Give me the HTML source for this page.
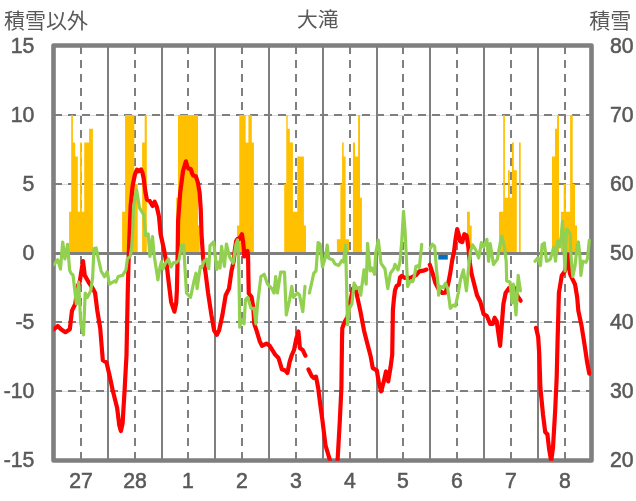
<!DOCTYPE html><html><head><meta charset="utf-8"><title>chart</title><style>html,body{margin:0;padding:0;background:#fff}body{width:636px;height:501px;overflow:hidden;font-family:"Liberation Sans",sans-serif}</style></head><body><svg width="636" height="501" viewBox="0 0 636 501" style="display:block">
<title>大滝</title><desc>積雪以外 / 積雪</desc>
<rect width="636" height="501" fill="#fff"/>
<defs><clipPath id="pc"><rect x="53.5" y="45.5" width="538" height="415.2"/></clipPath></defs>
<line x1="53.5" x2="591.5" y1="115.50" y2="115.50" stroke="#dcdcdc" stroke-width="1"/>
<line x1="53.5" x2="591.5" y1="184.50" y2="184.50" stroke="#dcdcdc" stroke-width="1"/>
<line x1="53.5" x2="591.5" y1="322.50" y2="322.50" stroke="#dcdcdc" stroke-width="1"/>
<line x1="53.5" x2="591.5" y1="391.50" y2="391.50" stroke="#dcdcdc" stroke-width="1"/>
<line x1="54" x2="591.5" y1="115.00" y2="115.00" stroke="#7f7f7f" stroke-width="2" stroke-dasharray="8 6"/>
<line x1="54" x2="591.5" y1="184.00" y2="184.00" stroke="#7f7f7f" stroke-width="2" stroke-dasharray="8 6"/>
<line x1="54" x2="591.5" y1="322.00" y2="322.00" stroke="#7f7f7f" stroke-width="2" stroke-dasharray="8 6"/>
<line x1="54" x2="591.5" y1="391.00" y2="391.00" stroke="#7f7f7f" stroke-width="2" stroke-dasharray="8 6"/>
<line x1="108.00" x2="108.00" y1="45.5" y2="460.5" stroke="#7f7f7f" stroke-width="2"/>
<line x1="162.00" x2="162.00" y1="45.5" y2="460.5" stroke="#7f7f7f" stroke-width="2"/>
<line x1="215.00" x2="215.00" y1="45.5" y2="460.5" stroke="#7f7f7f" stroke-width="2"/>
<line x1="269.00" x2="269.00" y1="45.5" y2="460.5" stroke="#7f7f7f" stroke-width="2"/>
<line x1="323.00" x2="323.00" y1="45.5" y2="460.5" stroke="#7f7f7f" stroke-width="2"/>
<line x1="377.00" x2="377.00" y1="45.5" y2="460.5" stroke="#7f7f7f" stroke-width="2"/>
<line x1="430.00" x2="430.00" y1="45.5" y2="460.5" stroke="#7f7f7f" stroke-width="2"/>
<line x1="484.00" x2="484.00" y1="45.5" y2="460.5" stroke="#7f7f7f" stroke-width="2"/>
<line x1="538.00" x2="538.00" y1="45.5" y2="460.5" stroke="#7f7f7f" stroke-width="2"/>
<line x1="81.00" x2="81.00" y1="46" y2="460.5" stroke="#7f7f7f" stroke-width="2" stroke-dasharray="8 6"/>
<line x1="135.00" x2="135.00" y1="46" y2="460.5" stroke="#7f7f7f" stroke-width="2" stroke-dasharray="8 6"/>
<line x1="188.00" x2="188.00" y1="46" y2="460.5" stroke="#7f7f7f" stroke-width="2" stroke-dasharray="8 6"/>
<line x1="242.00" x2="242.00" y1="46" y2="460.5" stroke="#7f7f7f" stroke-width="2" stroke-dasharray="8 6"/>
<line x1="296.00" x2="296.00" y1="46" y2="460.5" stroke="#7f7f7f" stroke-width="2" stroke-dasharray="8 6"/>
<line x1="350.00" x2="350.00" y1="46" y2="460.5" stroke="#7f7f7f" stroke-width="2" stroke-dasharray="8 6"/>
<line x1="403.00" x2="403.00" y1="46" y2="460.5" stroke="#7f7f7f" stroke-width="2" stroke-dasharray="8 6"/>
<line x1="457.00" x2="457.00" y1="46" y2="460.5" stroke="#7f7f7f" stroke-width="2" stroke-dasharray="8 6"/>
<line x1="511.00" x2="511.00" y1="46" y2="460.5" stroke="#7f7f7f" stroke-width="2" stroke-dasharray="8 6"/>
<line x1="565.00" x2="565.00" y1="46" y2="460.5" stroke="#7f7f7f" stroke-width="2" stroke-dasharray="8 6"/>
<path d="M69.1,253.6L69.1,211.7L71.2,211.7L71.2,114.9L72.9,114.9L72.9,142.6L75.2,142.6L75.2,156.4L77.8,156.4L77.8,211.7L80.0,211.7L80.0,142.6L81.8,142.6L81.8,211.7L84.2,211.7L84.2,142.6L89.1,142.6L89.1,128.8L92.9,128.8L92.9,253.6Z" fill="#FFC000"/>
<path d="M122.1,253.6L122.1,211.7L125.1,211.7L125.1,114.9L134.3,114.9L134.3,184.0L137.7,184.0L137.7,253.6Z" fill="#FFC000"/>
<path d="M142.1,253.6L142.1,142.6L144.7,142.6L144.7,114.9L146.8,114.9L146.8,253.6Z" fill="#FFC000"/>
<path d="M176.2,253.6L176.2,197.8L178.0,197.8L178.0,114.9L198.0,114.9L198.0,225.5L199.7,225.5L199.7,253.6Z" fill="#FFC000"/>
<path d="M237.1,253.6L237.1,225.5L239.3,225.5L239.3,114.9L245.7,114.9L245.7,142.6L248.4,142.6L248.4,114.9L251.8,114.9L251.8,142.6L253.9,142.6L253.9,253.6Z" fill="#FFC000"/>
<path d="M284.2,253.6L284.2,184.0L286.3,184.0L286.3,114.9L287.7,114.9L287.7,128.8L289.8,128.8L289.8,142.6L292.9,142.6L292.9,211.7L297.3,211.7L297.3,156.4L303.9,156.4L303.9,225.5L306.0,225.5L306.0,253.6Z" fill="#FFC000"/>
<path d="M336.9,253.6L336.9,239.3L340.4,239.3L340.4,184.0L342.1,184.0L342.1,142.6L343.7,142.6L343.7,156.4L345.6,156.4L345.6,239.3L349.0,239.3L349.0,253.6Z" fill="#FFC000"/>
<path d="M352.9,253.6L352.9,142.6L355.0,142.6L355.0,156.4L358.1,156.4L358.1,114.9L360.0,114.9L360.0,197.8L361.9,197.8L361.9,253.6Z" fill="#FFC000"/>
<path d="M467.0,253.6L467.0,211.7L469.9,211.7L469.9,225.5L471.7,225.5L471.7,253.6Z" fill="#FFC000"/>
<path d="M499.0,253.6L499.0,211.7L503.2,211.7L503.2,114.9L504.9,114.9L504.9,197.8L508.0,197.8L508.0,170.2L509.8,170.2L509.8,197.8L511.9,197.8L511.9,142.6L513.8,142.6L513.8,170.2L516.8,170.2L516.8,253.6Z" fill="#FFC000"/>
<path d="M519.0,253.6L519.0,142.6L520.7,142.6L520.7,253.6Z" fill="#FFC000"/>
<path d="M552.0,253.6L552.0,156.4L555.0,156.4L555.0,128.8L557.1,128.8L557.1,114.9L559.0,114.9L559.0,253.6Z" fill="#FFC000"/>
<path d="M560.9,253.6L560.9,211.7L563.7,211.7L563.7,184.0L565.9,184.0L565.9,211.7L570.1,211.7L570.1,114.9L572.7,114.9L572.7,184.0L575.0,184.0L575.0,225.5L577.0,225.5L577.0,253.6Z" fill="#FFC000"/>
<line x1="53.5" x2="591.5" y1="253.5" y2="253.5" stroke="#7f7f7f" stroke-width="2.8"/>
<rect x="438.3" y="255.0" width="9.5" height="4.6" fill="#0070C0"/>
<rect x="53.5" y="45.5" width="538.0" height="415.0" fill="none" stroke="#7f7f7f" stroke-width="4.6" stroke-linejoin="round"/>
<g clip-path="url(#pc)" fill="none" stroke-linejoin="round" stroke-linecap="round">
<polyline points="54.0,329.3 57.7,326.0 61.0,329.3 65.4,332.2 69.8,329.3 72.0,310.6 75.3,304.0 77.5,286.4 79.7,282.0 83.0,261.0 84.8,275.4 88.5,282.0 92.9,288.6 95.1,293.0 97.3,310.6 100.2,328.2 102.8,360.2 106.5,362.5 109.4,374.8 112.7,390.2 117.1,407.8 119.3,425.4 120.9,431.0 122.6,423.2 124.6,390.2 126.5,355.0 127.8,290.0 128.8,253.0 130.6,206.0 132.6,186.0 134.9,174.5 137.0,169.6 138.8,171.2 141.0,169.4 142.4,172.5 143.6,178.0 145.5,192.5 146.9,199.6 149.7,201.0 152.6,206.0 154.7,201.7 156.8,206.7 159.0,216.6 160.6,234.0 164.0,249.5 166.7,265.0 168.9,284.0 171.1,301.8 174.4,311.7 176.2,303.0 176.9,290.0 177.5,262.0 178.1,221.0 180.2,192.5 183.0,171.2 185.9,161.3 187.3,166.5 188.4,168.5 190.8,169.1 192.2,173.5 193.2,175.5 195.8,176.2 197.9,182.6 199.6,192.5 200.8,210.0 201.5,234.0 203.1,258.0 205.6,273.2 208.1,293.0 211.4,315.0 214.1,330.4 216.9,334.8 219.1,330.4 222.4,315.0 225.7,295.2 229.0,288.6 231.5,271.0 233.5,262.0 234.8,250.0 236.2,240.8 237.5,238.8 239.0,239.2 240.3,237.0 241.9,234.2 243.0,241.0 243.8,249.0 244.3,256.5 245.8,252.1 247.4,251.0 248.1,257.0 248.4,277.0 248.8,293.5 251.5,296.8 253.2,306.7 254.3,323.8 256.5,330.4 259.8,341.4 262.0,345.8 266.4,343.6 269.7,345.8 275.2,354.6 278.5,358.0 281.9,369.3 285.2,370.4 287.4,373.0 289.6,362.0 291.8,355.0 294.0,350.2 296.2,339.2 298.4,331.5 299.9,348.0 302.8,350.2 305.4,355.7" stroke="#FF0000" stroke-width="4.2"/>
<polyline points="308.5,369.5 311.6,375.9 313.8,378.1 316.0,376.6 318.2,388.0 320.4,405.6 322.4,420.0 325.5,445.3 329.9,460.0 332.0,475.0 335.6,475.0 337.6,460.0 339.8,421.0 341.4,388.0 342.0,340.0 342.3,328.2 344.2,322.7 347.5,317.2 349.7,304.0 353.0,288.6 355.2,286.4 357.4,297.4 360.7,312.8 364.0,330.4 367.3,343.6 370.6,356.0 372.8,368.2 376.8,370.4 379.0,383.6 381.2,391.3 383.8,381.4 386.0,371.5 388.2,381.4 390.4,368.2 392.2,355.0 392.6,330.0 392.9,310.0 393.9,299.0 395.0,290.2 396.7,285.8 398.9,284.7 400.0,277.5 401.6,276.0 404.9,277.8 410.5,277.9 416.0,275.1 419.3,271.3 423.2,270.7 426.5,269.6" stroke="#FF0000" stroke-width="4.2"/>
<polyline points="429.8,264.7 432.5,272.9 435.3,282.8 438.9,289.7 442.2,293.0 445.5,292.6 447.9,285.0 450.1,274.0 452.3,259.7 454.0,252.0 455.6,238.8 457.2,229.0 458.6,234.0 460.0,241.0 462.2,242.1 464.3,234.2 466.6,235.5 468.3,246.5 469.9,263.0 471.6,274.0 474.8,286.4 477.0,295.2 480.3,301.8 483.6,313.9 486.9,316.1 490.2,323.8 492.9,323.8 494.6,317.7 496.8,321.6 500.1,345.8 501.7,326.0 503.4,304.0 505.6,293.0 508.9,288.2 511.1,290.8 513.3,286.4 515.5,291.9 517.7,296.3 520.6,300.7" stroke="#FF0000" stroke-width="4.2"/>
<polyline points="536.0,327.8 538.2,337.0 539.3,355.0 540.4,388.0 543.0,414.4 545.2,432.0 547.4,434.2 549.2,449.7 551.2,461.0 553.0,447.5 555.2,410.0 556.7,377.0 557.6,340.0 558.9,293.0 561.8,275.4 565.0,271.0 568.0,254.7 569.9,273.2 570.6,275.4 575.0,284.2 577.2,297.4 578.3,310.6 581.6,326.0 584.9,347.0 587.1,362.0 589.3,373.7" stroke="#FF0000" stroke-width="4.2"/>
</g>
<g clip-path="url(#pc)" fill="none" stroke-linejoin="round" stroke-linecap="round">
<polyline points="54.0,264.6 57.7,259.7 60.5,269.0 62.7,242.0 64.9,259.0 67.6,244.3 69.6,270.0 70.9,273.2 73.0,275.0 76.4,304.0 78.6,282.0 80.8,323.8 83.5,334.8 85.2,293.0 87.4,297.4 90.7,290.8 92.6,278.0 94.0,248.5 96.2,248.0 98.4,259.0 101.2,271.2 104.5,276.7 107.2,271.8 109.4,284.2 114.9,280.9 116.0,282.0 118.2,276.5 122.6,275.4 125.9,270.0 127.4,258.8 130.2,256.4 131.7,247.0 132.6,232.0 133.6,206.0 136.6,189.8 139.5,207.8 143.8,214.8 145.6,235.6 148.2,233.9 149.9,256.5 152.5,236.5 154.3,256.5 157.9,279.8 160.1,266.6 161.5,261.7 163.0,269.0 165.0,264.0 168.4,259.0 171.0,267.0 173.6,262.5 176.0,263.0 178.9,260.0 181.5,245.2 183.7,245.2 184.9,267.0 186.5,293.0 190.5,297.4 193.8,282.0 196.0,273.2 197.1,288.6 200.4,266.6 202.0,267.0 204.0,261.0 206.4,259.2 208.8,268.7 210.0,245.6 213.6,242.0 216.8,269.5 218.4,262.0 220.0,268.0 221.6,246.4 224.4,266.4 226.4,244.0 229.5,256.8 233.1,263.2 235.9,244.8 237.6,240.0 238.6,262.0 239.2,290.0 239.8,327.1 241.1,319.4 244.0,323.8 245.5,299.6 247.7,297.4 251.0,308.4 254.0,308.4 255.9,323.8 257.6,304.0 260.9,276.5 264.2,274.3 267.5,284.2 271.9,288.6 274.0,293.0 275.7,276.5 277.4,293.0 280.7,272.1 284.5,272.1 286.3,315.0 289.6,299.6 291.8,286.4 293.3,297.4 297.3,293.0 299.5,295.0 302.8,311.7 305.0,286.4" stroke="#92D050" stroke-width="3.2"/>
<polyline points="309.4,293.0 313.8,273.2 316.0,271.0 318.1,242.6 320.2,244.3 322.5,267.0 324.0,262.0 325.5,257.0 327.2,245.2 328.6,258.2 332.9,260.0 335.0,264.0 338.7,265.5 341.6,260.8 343.5,262.0 345.6,245.2 346.5,282.0 347.5,324.9 349.7,307.3 351.9,304.0 354.1,283.1 356.3,288.6 359.6,287.5 360.7,295.2 364.0,269.9 366.2,284.2 367.6,243.4 370.2,271.0 372.0,268.0 374.6,274.3 375.7,253.0 378.3,240.0 381.0,263.4 384.9,268.8 387.8,288.6 390.4,273.2 393.7,268.8 394.9,264.3 398.1,269.9 400.0,261.7 401.8,240.8 403.5,211.3 405.0,230.0 406.3,256.5 407.6,286.5 409.4,282.8 411.0,280.6 412.7,281.7 414.4,276.2 416.0,266.3 417.7,265.8 419.3,267.4 420.4,257.5 421.7,244.3" stroke="#92D050" stroke-width="3.2"/>
<polyline points="430.1,248.7 432.5,244.3 434.7,246.5 436.4,268.5 438.0,284.0 438.6,295.2 440.0,286.4 443.3,287.5 445.5,283.1 447.7,288.6 450.3,308.4 453.2,305.1 455.4,306.2 458.3,293.0 460.5,279.8 463.4,269.9 466.4,290.8 468.7,267.0 470.4,251.4 472.6,244.8 475.9,250.3 478.7,258.0 481.4,242.6 483.6,247.0 486.9,239.3 488.6,261.3 490.2,243.7 493.5,264.6 497.4,259.1 500.1,243.7 501.8,236.0 504.5,247.0 506.2,261.3 506.7,280.9 510.0,282.0 512.2,302.9 513.3,284.2 516.0,315.0 518.2,275.4 520.4,290.8" stroke="#92D050" stroke-width="3.2"/>
<polyline points="535.0,261.2 537.7,257.9 540.5,265.6 542.1,244.7 544.3,243.0 546.5,261.2 548.5,260.5 550.4,259.0 553.7,247.5 555.5,261.2 557.5,240.9 559.7,246.9 561.2,236.0 562.5,221.6 564.0,250.0 565.0,271.0 566.3,232.0 566.9,229.3 570.2,233.7 571.0,256.5 572.8,276.5 575.0,266.0 577.2,246.0 578.4,242.0 579.9,256.0 580.9,275.4 582.8,261.2 586.1,262.3 587.6,258.0 589.3,240.3" stroke="#92D050" stroke-width="3.2"/>
</g>
<g font-family="Liberation Sans, sans-serif" font-size="22" fill="#595959" stroke="#595959" stroke-width="0.55" style="filter:grayscale(1)">
<text transform="translate(34.3,52.9) scale(0.965,1)" text-anchor="end">15</text>
<text transform="translate(34.3,121.8) scale(0.965,1)" text-anchor="end">10</text>
<text transform="translate(34.3,190.8) scale(0.965,1)" text-anchor="end">5</text>
<text transform="translate(34.3,259.9) scale(0.965,1)" text-anchor="end">0</text>
<text transform="translate(34.3,328.9) scale(0.965,1)" text-anchor="end">-5</text>
<text transform="translate(34.3,397.9) scale(0.965,1)" text-anchor="end">-10</text>
<text transform="translate(34.3,466.9) scale(0.965,1)" text-anchor="end">-15</text>
<text transform="translate(609.9,53.0) scale(0.965,1)">80</text>
<text transform="translate(609.9,122.0) scale(0.965,1)">70</text>
<text transform="translate(609.9,191.0) scale(0.965,1)">60</text>
<text transform="translate(609.9,260.1) scale(0.965,1)">50</text>
<text transform="translate(609.9,329.1) scale(0.965,1)">40</text>
<text transform="translate(609.9,398.1) scale(0.965,1)">30</text>
<text transform="translate(609.9,467.1) scale(0.965,1)">20</text>
<text transform="translate(81.0,487.6) scale(0.965,1)" text-anchor="middle">27</text>
<text transform="translate(135.0,487.6) scale(0.965,1)" text-anchor="middle">28</text>
<text transform="translate(188.0,487.6) scale(0.965,1)" text-anchor="middle">1</text>
<text transform="translate(242.0,487.6) scale(0.965,1)" text-anchor="middle">2</text>
<text transform="translate(296.0,487.6) scale(0.965,1)" text-anchor="middle">3</text>
<text transform="translate(350.0,487.6) scale(0.965,1)" text-anchor="middle">4</text>
<text transform="translate(403.0,487.6) scale(0.965,1)" text-anchor="middle">5</text>
<text transform="translate(457.0,487.6) scale(0.965,1)" text-anchor="middle">6</text>
<text transform="translate(511.0,487.6) scale(0.965,1)" text-anchor="middle">7</text>
<text transform="translate(565.0,487.6) scale(0.965,1)" text-anchor="middle">8</text>
</g>
<text x="3.9" y="27.5" font-family="'Liberation Sans','Noto Sans CJK JP',sans-serif" font-size="21" fill="#595959">積雪以外</text>
<text x="297" y="27.3" font-family="'Liberation Sans','Noto Sans CJK JP',sans-serif" font-size="20.8" fill="#595959">大滝</text>
<text x="589.2" y="27.6" font-family="'Liberation Sans','Noto Sans CJK JP',sans-serif" font-size="21" fill="#595959">積雪</text>
</svg></body></html>
